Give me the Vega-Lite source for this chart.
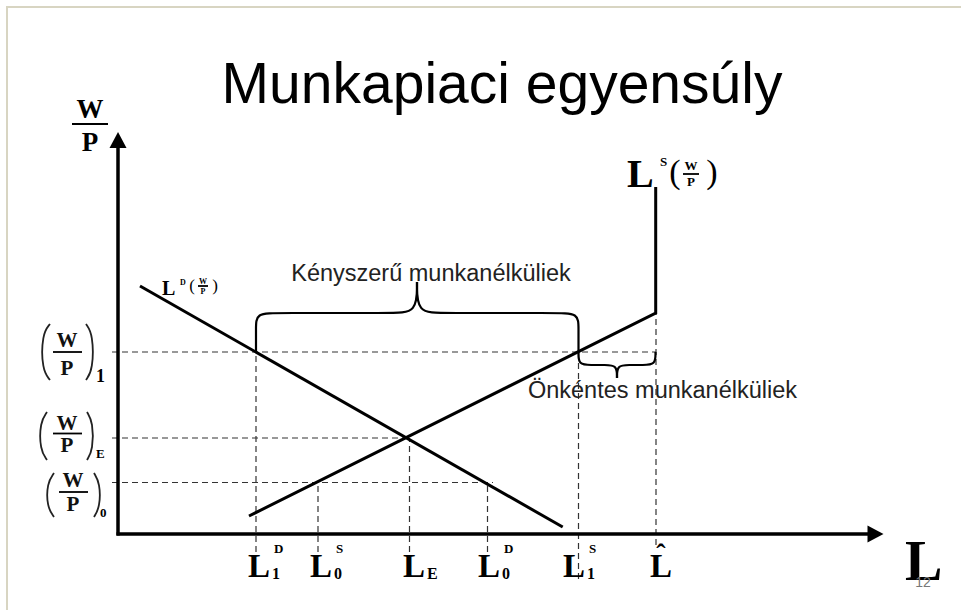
{
  "$schema": "https://vega.github.io/schema/vega-lite/v6.json",
  "width": 956,
  "height": 605,
  "autosize": "none",
  "padding": {"left": 7, "top": 7, "right": 0, "bottom": 0},
  "background": "white",
  "config": {"view": {"stroke": "#d8d5c2", "strokeWidth": 2}},
  "datasets": {
    "axes": [
      {"x": -0.15, "y": 0, "x2": 75.5, "y2": 0},
      {"x": 0, "y": -0.15, "x2": 0, "y2": 39.0}
    ],
    "arrowUp": [{"x": 0, "y": 39.4}],
    "arrowRight": [{"x": 75.75, "y": 0}],
    "guides": [
      {"x": -0.6, "y": 18.2, "x2": 53.8, "y2": 18.2},
      {"x": -0.6, "y": 9.6, "x2": 29.15, "y2": 9.6},
      {"x": -0.6, "y": 5.15, "x2": 37.5, "y2": 5.15},
      {"x": 13.8, "y": -1.8, "x2": 13.8, "y2": 18.2},
      {"x": 20.0, "y": -1.8, "x2": 20.0, "y2": 5.15},
      {"x": 29.15, "y": -1.8, "x2": 29.15, "y2": 9.6},
      {"x": 36.95, "y": -1.8, "x2": 36.95, "y2": 5.15},
      {"x": 46.05, "y": -4.5, "x2": 46.05, "y2": 18.2},
      {"x": 53.8, "y": -1.1, "x2": 53.8, "y2": 22.1}
    ],
    "curves": [
      {"c": "S", "i": 0, "x": 13.1, "y": 1.8},
      {"c": "S", "i": 1, "x": 53.77, "y": 22.1},
      {"c": "S", "i": 2, "x": 53.77, "y": 34.7},
      {"c": "D", "i": 0, "x": 2.2, "y": 24.8},
      {"c": "D", "i": 1, "x": 44.47, "y": 0.7}
    ],
    "braces": [
      {"b": "A", "i": 0, "x": 13.8, "y": 18.2},
      {"b": "A", "i": 1, "x": 13.8, "y": 20.6},
      {"b": "A", "i": 2, "x": 13.8, "y": 22.1},
      {"b": "A", "i": 3, "x": 16.0, "y": 22.1},
      {"b": "A", "i": 4, "x": 27.4, "y": 22.1},
      {"b": "A", "i": 5, "x": 29.9, "y": 22.1},
      {"b": "A", "i": 6, "x": 29.9, "y": 25.2},
      {"b": "B", "i": 0, "x": 29.9, "y": 25.2},
      {"b": "B", "i": 1, "x": 29.9, "y": 22.1},
      {"b": "B", "i": 2, "x": 32.4, "y": 22.1},
      {"b": "B", "i": 3, "x": 43.8, "y": 22.1},
      {"b": "B", "i": 4, "x": 46.05, "y": 22.1},
      {"b": "B", "i": 5, "x": 46.05, "y": 20.6},
      {"b": "B", "i": 6, "x": 46.05, "y": 18.2},
      {"b": "C", "i": 0, "x": 46.05, "y": 18.2},
      {"b": "C", "i": 1, "x": 46.05, "y": 16.9},
      {"b": "C", "i": 2, "x": 47.3, "y": 16.9},
      {"b": "C", "i": 3, "x": 48.7, "y": 16.9},
      {"b": "C", "i": 4, "x": 49.9, "y": 16.9},
      {"b": "C", "i": 5, "x": 49.9, "y": 15.6},
      {"b": "D", "i": 0, "x": 49.9, "y": 15.6},
      {"b": "D", "i": 1, "x": 49.9, "y": 16.9},
      {"b": "D", "i": 2, "x": 51.1, "y": 16.9},
      {"b": "D", "i": 3, "x": 52.5, "y": 16.9},
      {"b": "D", "i": 4, "x": 53.75, "y": 16.9},
      {"b": "D", "i": 5, "x": 53.75, "y": 18.2}
    ],
    "parens": [
      {"p": "1L", "i": 0, "x": -6.8, "y": 21.0},
      {"p": "1L", "i": 1, "x": -7.6, "y": 20.0},
      {"p": "1L", "i": 2, "x": -7.6, "y": 16.4},
      {"p": "1L", "i": 3, "x": -6.8, "y": 15.4},
      {"p": "1R", "i": 0, "x": -3.2, "y": 21.0},
      {"p": "1R", "i": 1, "x": -2.5, "y": 20.0},
      {"p": "1R", "i": 2, "x": -2.5, "y": 16.4},
      {"p": "1R", "i": 3, "x": -3.2, "y": 15.4},
      {"p": "EL", "i": 0, "x": -7.1, "y": 12.2},
      {"p": "EL", "i": 1, "x": -7.8, "y": 11.2},
      {"p": "EL", "i": 2, "x": -7.8, "y": 8.4},
      {"p": "EL", "i": 3, "x": -7.1, "y": 7.4},
      {"p": "ER", "i": 0, "x": -3.1, "y": 12.2},
      {"p": "ER", "i": 1, "x": -2.5, "y": 11.2},
      {"p": "ER", "i": 2, "x": -2.5, "y": 8.4},
      {"p": "ER", "i": 3, "x": -3.1, "y": 7.4},
      {"p": "0L", "i": 0, "x": -6.4, "y": 6.1},
      {"p": "0L", "i": 1, "x": -7.1, "y": 5.1},
      {"p": "0L", "i": 2, "x": -7.1, "y": 2.7},
      {"p": "0L", "i": 3, "x": -6.4, "y": 1.7},
      {"p": "0R", "i": 0, "x": -2.4, "y": 6.1},
      {"p": "0R", "i": 1, "x": -1.8, "y": 5.1},
      {"p": "0R", "i": 2, "x": -1.8, "y": 2.7},
      {"p": "0R", "i": 3, "x": -2.4, "y": 1.7}
    ],
    "bars": [
      {"x": -4.6, "y": 41.0, "x2": -1.0, "y2": 41.0},
      {"x": -6.5, "y": 18.2, "x2": -3.6, "y2": 18.2},
      {"x": -6.5, "y": 10.05, "x2": -3.6, "y2": 10.05},
      {"x": -5.9, "y": 4.2, "x2": -3.0, "y2": 4.2},
      {"x": 56.5, "y": 36.0, "x2": 58.1, "y2": 36.0},
      {"x": 8.0, "y": 24.8, "x2": 9.0, "y2": 24.8}
    ],
    "title": [{"t": "Munkapiaci egyensúly", "x": 38.4, "y": 43.1}],
    "notes": [
      {"t": "Kényszerű munkanélküliek", "x": 31.3, "y": 25.3},
      {"t": "Önkéntes munkanélküliek", "x": 54.45, "y": 13.6}
    ],
    "xL": [
      {"t": "L", "x": 13.0, "y": -4.3},
      {"t": "L", "x": 19.2, "y": -4.3},
      {"t": "L", "x": 28.5, "y": -4.3},
      {"t": "L", "x": 36.0, "y": -4.3},
      {"t": "L", "x": 44.5, "y": -4.3},
      {"t": "L", "x": 53.2, "y": -4.3}
    ],
    "small13": [
      {"t": "D", "x": 15.6, "y": -1.9},
      {"t": "S", "x": 21.8, "y": -1.9},
      {"t": "D", "x": 38.6, "y": -1.9},
      {"t": "S", "x": 47.1, "y": -1.9},
      {"t": "S", "x": 54.2, "y": 36.8},
      {"t": "E", "x": -2.2, "y": 7.6},
      {"t": "0", "x": -1.8, "y": 1.7}
    ],
    "xSub": [
      {"t": "1", "x": 15.4, "y": -4.5},
      {"t": "0", "x": 21.6, "y": -4.5},
      {"t": "E", "x": 30.9, "y": -4.5},
      {"t": "0", "x": 38.4, "y": -4.5},
      {"t": "1", "x": 46.9, "y": -4.5}
    ],
    "hat": [{"t": "ˆ", "x": 54.3, "y": -2.9}],
    "yWP": [
      {"t": "W", "x": -5.1, "y": 18.7},
      {"t": "P", "x": -5.1, "y": 15.9},
      {"t": "W", "x": -5.1, "y": 10.4},
      {"t": "P", "x": -5.1, "y": 8.2},
      {"t": "W", "x": -4.5, "y": 4.7},
      {"t": "P", "x": -4.5, "y": 2.3}
    ],
    "ySub1": [{"t": "1", "x": -2.2, "y": 15.2}],
    "axisWP": [
      {"t": "W", "x": -2.8, "y": 41.6},
      {"t": "P", "x": -2.8, "y": 38.3}
    ],
    "ldL": [{"t": "L", "x": 4.4, "y": 23.9}],
    "ldSmall": [
      {"t": "D", "x": 6.5, "y": 24.9},
      {"t": "W", "x": 8.5, "y": 25.0},
      {"t": "P", "x": 8.5, "y": 24.0}
    ],
    "ldParens": [
      {"t": "(", "x": 7.4, "y": 24.8},
      {"t": ")", "x": 9.7, "y": 24.8}
    ],
    "lsL": [{"t": "L", "x": 50.9, "y": 34.7}],
    "lsParens": [
      {"t": "(", "x": 55.7, "y": 36.1},
      {"t": ")", "x": 59.4, "y": 36.1}
    ],
    "lsWP": [
      {"t": "W", "x": 57.3, "y": 36.4},
      {"t": "P", "x": 57.3, "y": 34.8}
    ],
    "bigL": [{"t": "L", "x": 78.7, "y": -4.6}],
    "slideNo": [{"t": "12", "x": 80.5, "y": -5.3}]
  },
  "encoding": {
    "x": {"field": "x", "type": "quantitative", "scale": {"domain": [-11.1, 84.5], "nice": false, "zero": false}, "axis": null},
    "y": {"field": "y", "type": "quantitative", "scale": {"domain": [-7.8, 52.7], "nice": false, "zero": false}, "axis": null}
  },
  "layer": [
    {"data": {"name": "guides"}, "mark": {"type": "rule", "color": "#333333", "strokeWidth": 1.2, "strokeDash": [6, 4]},
     "encoding": {"x2": {"field": "x2"}, "y2": {"field": "y2"}}},
    {"data": {"name": "axes"}, "mark": {"type": "rule", "color": "black", "strokeWidth": 3.5},
     "encoding": {"x2": {"field": "x2"}, "y2": {"field": "y2"}}},
    {"data": {"name": "arrowUp"}, "mark": {"type": "point", "filled": true, "color": "black", "opacity": 1, "size": 1156, "shape": "M0,-0.47L0.5,0.47L-0.5,0.47Z"}},
    {"data": {"name": "arrowRight"}, "mark": {"type": "point", "filled": true, "color": "black", "opacity": 1, "size": 1156, "shape": "M0.47,0L-0.47,-0.5L-0.47,0.5Z"}},
    {"data": {"name": "curves"}, "mark": {"type": "line", "color": "black", "strokeWidth": 3},
     "encoding": {"detail": {"field": "c"}, "order": {"field": "i", "type": "quantitative"}}},
    {"data": {"name": "braces"}, "mark": {"type": "line", "color": "black", "strokeWidth": 2.2, "interpolate": "basis"},
     "encoding": {"detail": {"field": "b"}, "order": {"field": "i", "type": "quantitative"}}},
    {"data": {"name": "parens"}, "mark": {"type": "line", "color": "#222222", "strokeWidth": 1.8, "interpolate": "basis"},
     "encoding": {"detail": {"field": "p"}, "order": {"field": "i", "type": "quantitative"}}},
    {"data": {"name": "bars"}, "mark": {"type": "rule", "color": "black", "strokeWidth": 1.8},
     "encoding": {"x2": {"field": "x2"}, "y2": {"field": "y2"}}},
    {"data": {"name": "title"}, "mark": {"type": "text", "font": "Liberation Sans", "fontSize": 57, "align": "center", "baseline": "alphabetic", "color": "black"},
     "encoding": {"text": {"field": "t"}}},
    {"data": {"name": "notes"}, "mark": {"type": "text", "font": "Liberation Sans", "fontSize": 23.5, "align": "center", "baseline": "alphabetic", "color": "#222222"},
     "encoding": {"text": {"field": "t"}}},
    {"data": {"name": "xL"}, "mark": {"type": "text", "font": "Liberation Serif", "fontWeight": "bold", "fontSize": 33, "align": "left", "baseline": "alphabetic", "color": "black"},
     "encoding": {"text": {"field": "t"}}},
    {"data": {"name": "small13"}, "mark": {"type": "text", "font": "Liberation Serif", "fontWeight": "bold", "fontSize": 13, "align": "left", "baseline": "alphabetic", "color": "black"},
     "encoding": {"text": {"field": "t"}}},
    {"data": {"name": "xSub"}, "mark": {"type": "text", "font": "Liberation Serif", "fontWeight": "bold", "fontSize": 16, "align": "left", "baseline": "alphabetic", "color": "black"},
     "encoding": {"text": {"field": "t"}}},
    {"data": {"name": "hat"}, "mark": {"type": "text", "font": "Liberation Serif", "fontWeight": "bold", "fontSize": 28, "align": "center", "baseline": "alphabetic", "color": "black"},
     "encoding": {"text": {"field": "t"}}},
    {"data": {"name": "yWP"}, "mark": {"type": "text", "font": "Liberation Serif", "fontWeight": "bold", "fontSize": 21, "align": "center", "baseline": "alphabetic", "color": "#111111"},
     "encoding": {"text": {"field": "t"}}},
    {"data": {"name": "ySub1"}, "mark": {"type": "text", "font": "Liberation Serif", "fontWeight": "bold", "fontSize": 18, "align": "left", "baseline": "alphabetic", "color": "black"},
     "encoding": {"text": {"field": "t"}}},
    {"data": {"name": "axisWP"}, "mark": {"type": "text", "font": "Liberation Serif", "fontWeight": "bold", "fontSize": 27, "align": "center", "baseline": "alphabetic", "color": "black"},
     "encoding": {"text": {"field": "t"}}},
    {"data": {"name": "ldL"}, "mark": {"type": "text", "font": "Liberation Serif", "fontWeight": "bold", "fontSize": 20, "align": "left", "baseline": "alphabetic", "color": "black"},
     "encoding": {"text": {"field": "t"}}},
    {"data": {"name": "ldSmall"}, "mark": {"type": "text", "font": "Liberation Serif", "fontWeight": "bold", "fontSize": 8, "align": "center", "baseline": "alphabetic", "color": "black"},
     "encoding": {"text": {"field": "t"}}},
    {"data": {"name": "ldParens"}, "mark": {"type": "text", "font": "Liberation Serif", "fontSize": 17, "align": "center", "baseline": "middle", "color": "black"},
     "encoding": {"text": {"field": "t"}}},
    {"data": {"name": "lsL"}, "mark": {"type": "text", "font": "Liberation Serif", "fontWeight": "bold", "fontSize": 40, "align": "left", "baseline": "alphabetic", "color": "black"},
     "encoding": {"text": {"field": "t"}}},
    {"data": {"name": "lsParens"}, "mark": {"type": "text", "font": "Liberation Serif", "fontSize": 34, "align": "center", "baseline": "middle", "color": "black"},
     "encoding": {"text": {"field": "t"}}},
    {"data": {"name": "lsWP"}, "mark": {"type": "text", "font": "Liberation Serif", "fontWeight": "bold", "fontSize": 13, "align": "center", "baseline": "alphabetic", "color": "black"},
     "encoding": {"text": {"field": "t"}}},
    {"data": {"name": "bigL"}, "mark": {"type": "text", "font": "Liberation Serif", "fontWeight": "bold", "fontSize": 56, "align": "left", "baseline": "alphabetic", "color": "black"},
     "encoding": {"text": {"field": "t"}}},
    {"data": {"name": "slideNo"}, "mark": {"type": "text", "font": "Liberation Sans", "fontSize": 14, "align": "center", "baseline": "alphabetic", "color": "#777777"},
     "encoding": {"text": {"field": "t"}}}
  ]
}
